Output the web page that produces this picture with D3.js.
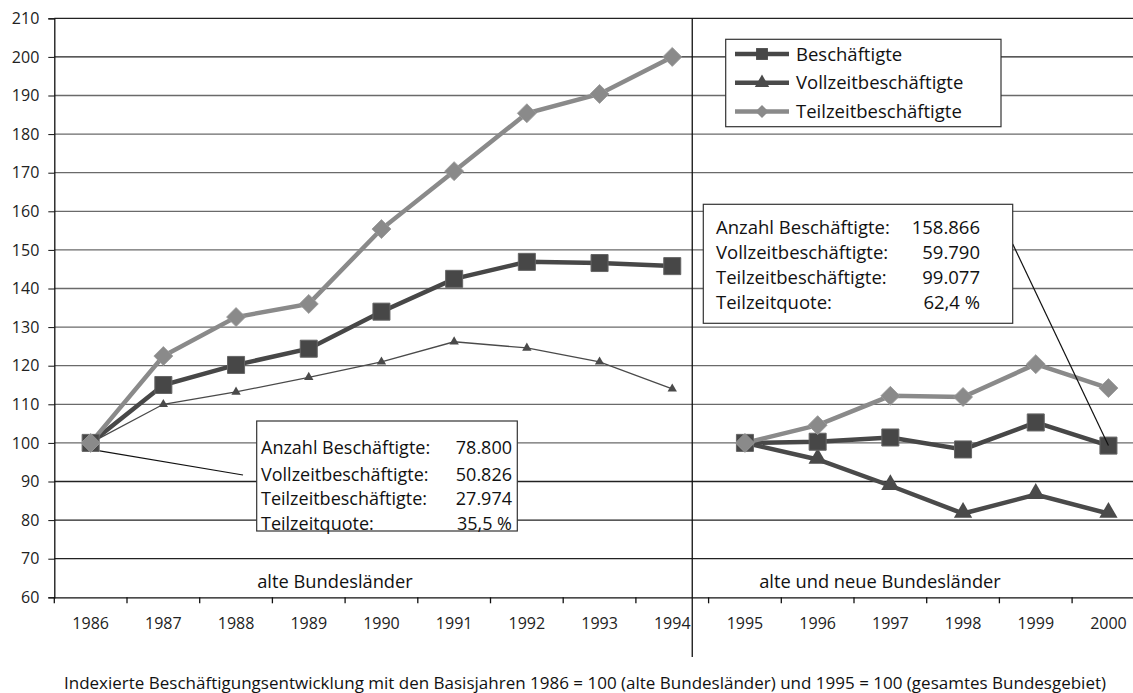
<!DOCTYPE html>
<html><head><meta charset="utf-8">
<script src="https://cdn.jsdelivr.net/npm/d3@7"></script>
<style>
body{margin:0;background:#fff;}
svg{display:block;font-family:"Open Sans",sans-serif;}
</style></head>
<body><svg id="c" width="1133" height="693"></svg>
<script>
const years = ["1986","1987","1988","1989","1990","1991","1992","1993","1994","1995","1996","1997","1998","1999","2000"];
const beschaeftigte = [100,115,120.2,124.4,134,142.5,146.9,146.6,145.8, 100,100.3,101.4,98.3,105.3,99.3];
const vollzeit = [100,110,113.2,117,121,126.2,124.6,121,114, 100,95.7,88.9,81.7,86.6,81.7];
const teilzeit = [100,122.5,132.6,136,155.4,170.4,185.4,190.4,200, 100,104.6,112.2,111.9,120.4,114.2];
const yTicks = [60,70,80,90,100,110,120,130,140,150,160,170,180,190,200,210];
const legendLabels = ["Beschäftigte","Vollzeitbeschäftigte","Teilzeitbeschäftigte"];
const boxLeftLabels = ["Anzahl Beschäftigte:","Vollzeitbeschäftigte:","Teilzeitbeschäftigte:","Teilzeitquote:"];
const boxLeftValues = ["78.800","50.826","27.974","35,5 %"];
const boxRightLabels = ["Anzahl Beschäftigte:","Vollzeitbeschäftigte:","Teilzeitbeschäftigte:","Teilzeitquote:"];
const boxRightValues = ["158.866","59.790","99.077","62,4 %"];
const regionLabels = ["alte Bundesländer","alte und neue Bundesländer"];
const caption = "Indexierte Beschäftigungsentwicklung mit den Basisjahren 1986 = 100 (alte Bundesländer) und 1995 = 100 (gesamtes Bundesgebiet)";

const svg = d3.select("#c");
const x0 = 54.3, step = 72.7;
const x = d3.scaleBand().domain(years).range([x0, x0 + step*years.length]);
const y = d3.scaleLinear().domain([60,210]).range([597.3,18.3]);
const cx = d => x(d) + x.bandwidth()/2;

// gridlines
svg.append("g").selectAll("line").data(yTicks.slice(1)).join("line")
  .attr("x1", x0).attr("x2", 1133).attr("y1", d=>y(d)).attr("y2", d=>y(d))
  .attr("stroke", d => (d>=200||d<=90)?"#222":"#6a6a6a").attr("stroke-width",1.3);

// y axis
const yAxis = d3.axisLeft(y).tickValues(yTicks).tickSize(6).tickPadding(9);
const gy = svg.append("g").attr("transform",`translate(${x0},0)`).call(yAxis);
gy.select(".domain").attr("stroke","#111").attr("stroke-width",1.3);
gy.selectAll(".tick line").attr("stroke","#111");
gy.selectAll("text").attr("font-size",16).attr("fill","#222").attr("font-family","Open Sans");

// x axis
const xAxis = d3.axisBottom(x).tickSize(0).tickPadding(20);
const gx = svg.append("g").attr("transform",`translate(0,${y(60)})`).call(xAxis);
gx.select(".domain").attr("stroke","#111").attr("stroke-width",1.3);
gx.selectAll("text").attr("font-size",16).attr("fill","#222").attr("font-family","Open Sans");
// tick marks between categories
svg.append("g").selectAll("line").data(d3.range(0, years.length+1)).join("line")
  .attr("x1", i => x0 + i*step).attr("x2", i => x0 + i*step)
  .attr("y1", y(60)).attr("y2", y(60)+6).attr("stroke","#111").attr("stroke-width",1.3);

// separator
const sepX = cx("1994") + 20;
svg.append("line").attr("x1",sepX).attr("x2",sepX).attr("y1",y(210)).attr("y2",657)
  .attr("stroke","#111").attr("stroke-width",1.3);

// series
const left = years.slice(0,9), right = years.slice(9);
const line = d3.line().x(d=>cx(d.yr)).y(d=>y(d.v));
function seg(vals, yrs){ return yrs.map(yr => ({yr, v: vals[years.indexOf(yr)]})); }

const colB = "#474747", colV = "#4a4a4a", colT = "#8a8a8a";

svg.append("path").datum(seg(vollzeit,left)).attr("d",line).attr("fill","none").attr("stroke",colV).attr("stroke-width",1.3);
svg.append("path").datum(seg(vollzeit,right)).attr("d",line).attr("fill","none").attr("stroke",colV).attr("stroke-width",4.5);
[left,right].forEach(s => svg.append("path").datum(seg(beschaeftigte,s)).attr("d",line).attr("fill","none").attr("stroke",colB).attr("stroke-width",4.5));
[left,right].forEach(s => svg.append("path").datum(seg(teilzeit,s)).attr("d",line).attr("fill","none").attr("stroke",colT).attr("stroke-width",4.5));

const triSmall = d3.symbol().type(d3.symbolTriangle).size(38);
const triBig = d3.symbol().type(d3.symbolTriangle).size(145);
const sq = d3.symbol().type(d3.symbolSquare).size(290);
const dia = d3.symbol().type(d3.symbolSquare).size(180);

svg.append("g").selectAll("path").data(seg(vollzeit,left).slice(1)).join("path")
  .attr("d",triSmall).attr("transform",d=>`translate(${cx(d.yr)},${y(d.v)})`).attr("fill",colV);
svg.append("g").selectAll("path").data(seg(vollzeit,right).slice(1)).join("path")
  .attr("d",triBig).attr("transform",d=>`translate(${cx(d.yr)},${y(d.v)-1})`).attr("fill",colV);
svg.append("g").selectAll("path").data(seg(beschaeftigte,years)).join("path")
  .attr("d",sq).attr("transform",d=>`translate(${cx(d.yr)},${y(d.v)})`).attr("fill",colB).attr("stroke","#666").attr("stroke-width",1);
svg.append("g").selectAll("path").data(seg(teilzeit,years)).join("path")
  .attr("d",dia).attr("transform",d=>`translate(${cx(d.yr)},${y(d.v)}) rotate(45)`).attr("fill",colT).attr("stroke","#9a9a9a").attr("stroke-width",0.8);

// legend
const lg = svg.append("g");
lg.append("rect").attr("x",725.7).attr("y",39.3).attr("width",275.3).attr("height",87.4).attr("fill","#fff").attr("stroke","#333").attr("stroke-width",1.2);
const legCols = [colB,colV,colT];
const legSyms = [d3.symbol().type(d3.symbolSquare).size(140), d3.symbol().type(d3.symbolTriangle).size(90), d3.symbol().type(d3.symbolSquare).size(85)];
const legRot = [0,0,45];
legendLabels.forEach((t,i)=>{
  const yy = 54 + i*28.8;
  lg.append("line").attr("x1",735).attr("x2",789).attr("y1",yy).attr("y2",yy).attr("stroke",legCols[i]).attr("stroke-width",4.5);
  lg.append("path").attr("d",legSyms[i]).attr("transform",`translate(762,${yy}) rotate(${legRot[i]})`).attr("fill",legCols[i]);
  lg.append("text").attr("x",796).attr("y",yy+6.5).attr("font-size",18.5).attr("fill","#111").text(t);
});

// connectors
svg.append("line").attr("x1",cx("1986")+9).attr("y1",y(100)+8).attr("x2",243).attr("y2",475).attr("stroke","#111").attr("stroke-width",1.2);
svg.append("line").attr("x1",1012.7).attr("y1",244).attr("x2",cx("2000")).attr("y2",y(beschaeftigte[14])).attr("stroke","#111").attr("stroke-width",1.2);

// annotation boxes
function box(bx,by,bw,bh,labels,values,tx,vx,ys,fs){
  const g = svg.append("g");
  g.append("rect").attr("x",bx).attr("y",by).attr("width",bw).attr("height",bh).attr("fill","#fff").attr("stroke","#333").attr("stroke-width",1.2);
  labels.forEach((t,i)=>{
    g.append("text").attr("x",tx).attr("y",ys[i]).attr("font-size",fs).attr("fill","#111").text(t);
    g.append("text").attr("x",vx).attr("y",ys[i]).attr("font-size",fs).attr("fill","#111").attr("text-anchor","end").text(values[i]);
  });
}
box(256.7,421,260.6,110,boxLeftLabels,boxLeftValues,261,512,[454,481,505,530],18);
box(703.3,204.3,309.4,119,boxRightLabels,boxRightValues,716,980,[234,259,284,309],18.5);

// region labels
svg.append("text").attr("x",335).attr("y",588).attr("text-anchor","middle").attr("font-size",18.3).attr("fill","#111").text(regionLabels[0]);
svg.append("text").attr("x",880).attr("y",588).attr("text-anchor","middle").attr("font-size",18.3).attr("fill","#111").text(regionLabels[1]);

// caption
svg.append("text").attr("x",585).attr("y",689).attr("text-anchor","middle").attr("font-size",17).attr("fill","#111").text(caption);
</script></body></html>
